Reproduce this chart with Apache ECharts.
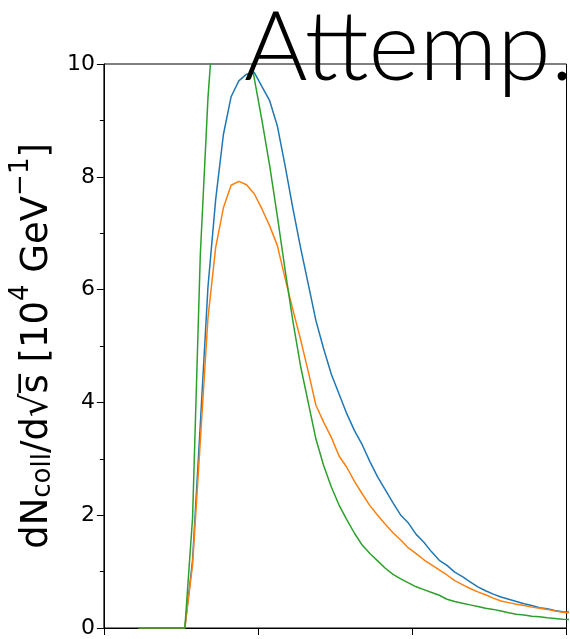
<!DOCTYPE html>
<html>
<head>
<meta charset="utf-8">
<script src="https://cdn.jsdelivr.net/npm/echarts@6/dist/echarts.min.js"></script>
<style>
html,body{margin:0;padding:0;background:#fff;}
#chart{width:570px;height:639px;}
</style>
</head>
<body>
<div id="chart"></div>
<script>
const xValues = [4.5,5.5,6.5,7.5,8.5,9.5,10.5,11.5,12.5,13.5,14.5,15.5,16.5,17.5,18.5,19.5,20.5,21.5,22.5,23.5,24.5,25.5,26.5,27.5,28.5,29.5,30.5,31.5,32.5,33.5,34.5,35.5,36.5,37.5,38.5,39.5,40.5,41.5,42.5,43.5,44.5,45.5,46.5,47.5,48.5,49.5,50.5,51.5,52.5,53.5,54.5,55.5,56.5,57.5,58.5,59.5,60.5];
const blueValues = [0,0,0,0,0,0,0,1.2,3.6,6.05,7.6,8.75,9.42,9.7,9.82,9.85,9.6,9.35,8.9,8.2,7.45,6.75,6.1,5.45,4.95,4.5,4.15,3.8,3.5,3.25,2.95,2.68,2.45,2.22,2.0,1.86,1.66,1.52,1.35,1.2,1.11,0.99,0.91,0.82,0.73,0.66,0.6,0.55,0.51,0.47,0.43,0.4,0.36,0.34,0.31,0.29,0.28];
const orangeValues = [0,0,0,0,0,0,0,1.12,3.3,5.5,6.75,7.45,7.85,7.92,7.86,7.7,7.43,7.13,6.78,6.2,5.65,5.12,4.55,3.95,3.65,3.38,3.05,2.85,2.6,2.38,2.17,2.0,1.84,1.69,1.56,1.42,1.32,1.21,1.12,1.03,0.94,0.84,0.77,0.7,0.64,0.59,0.53,0.48,0.45,0.42,0.4,0.37,0.35,0.33,0.3,0.28,0.27];
const greenValues = [0,0,0,0,0,0,0,1.95,6.6,9.4,11.3,12.0,12.0,11.5,10.6,9.75,9.0,8.2,7.3,6.35,5.45,4.65,4.0,3.35,2.88,2.5,2.18,1.92,1.68,1.47,1.32,1.19,1.06,0.95,0.87,0.8,0.73,0.68,0.63,0.58,0.51,0.47,0.44,0.41,0.38,0.35,0.33,0.3,0.27,0.245,0.23,0.21,0.2,0.18,0.17,0.155,0.15];
const titleText = 'Attemp.';

const pairs = vals => xValues.map((x, i) => [x, vals[i]]);
const chart = echarts.init(document.getElementById('chart'), null, {renderer: 'canvas'});
const fontFam = '"DejaVu Sans", sans-serif';
chart.setOption({
  animation: false,
  backgroundColor: '#ffffff',
  grid: {left: 103, right: 3.5, top: 64, bottom: 7.5, show: true, borderColor: '#000', borderWidth: 1, backgroundColor: 'transparent'},
  xAxis: {
    type: 'value', min: 0, max: 60, interval: 20,
    axisLine: {show: true, onZero: false, lineStyle: {color: '#000', width: 1}},
    axisTick: {show: true, inside: false, length: 7, lineStyle: {color: '#000', width: 1}},
    axisLabel: {show: false},
    splitLine: {show: false}
  },
  yAxis: {
    type: 'value', min: 0, max: 10, interval: 2,
    axisLine: {show: true, lineStyle: {color: '#000', width: 1}},
    axisTick: {show: true, inside: false, length: 7, lineStyle: {color: '#000', width: 1}},
    minorTick: {show: true, splitNumber: 2, length: 4, lineStyle: {color: '#000', width: 1}},
    axisLabel: {show: true, color: '#000', fontSize: 22, fontFamily: fontFam, margin: 9},
    splitLine: {show: false},
    name: '{n|dN}{sub|coll}{n|/d√s̅ [10}{sup|4}{n| GeV}{sup|−1}{n|]}',
    nameLocation: 'middle',
    nameGap: 46,
    nameTextStyle: {
      color: '#000', fontSize: 37, fontFamily: fontFam,
      rich: {
        n: {fontSize: 37, fontFamily: fontFam, color: '#000', verticalAlign: 'bottom', lineHeight: 48},
        sub: {fontSize: 26, fontFamily: fontFam, color: '#000', verticalAlign: 'bottom', lineHeight: 40},
        sup: {fontSize: 26, fontFamily: fontFam, color: '#000', verticalAlign: 'top', lineHeight: 48}
      }
    }
  },
  graphic: [{
    type: 'text', left: 244, top: 0, z: 100,
    style: {text: titleText, font: '300 97px Lato, "Liberation Sans", sans-serif', fill: '#000'}
  }],
  series: [
    {type: 'line', data: pairs(blueValues), showSymbol: false, symbol: 'none', clip: true, lineStyle: {color: '#1f77b4', width: 1.5}, z: 2},
    {type: 'line', data: pairs(orangeValues), showSymbol: false, symbol: 'none', clip: true, lineStyle: {color: '#ff7f0e', width: 1.5}, z: 3},
    {type: 'line', data: pairs(greenValues), showSymbol: false, symbol: 'none', clip: true, lineStyle: {color: '#2ca02c', width: 1.5}, z: 4}
  ]
});
</script>
</body>
</html>
